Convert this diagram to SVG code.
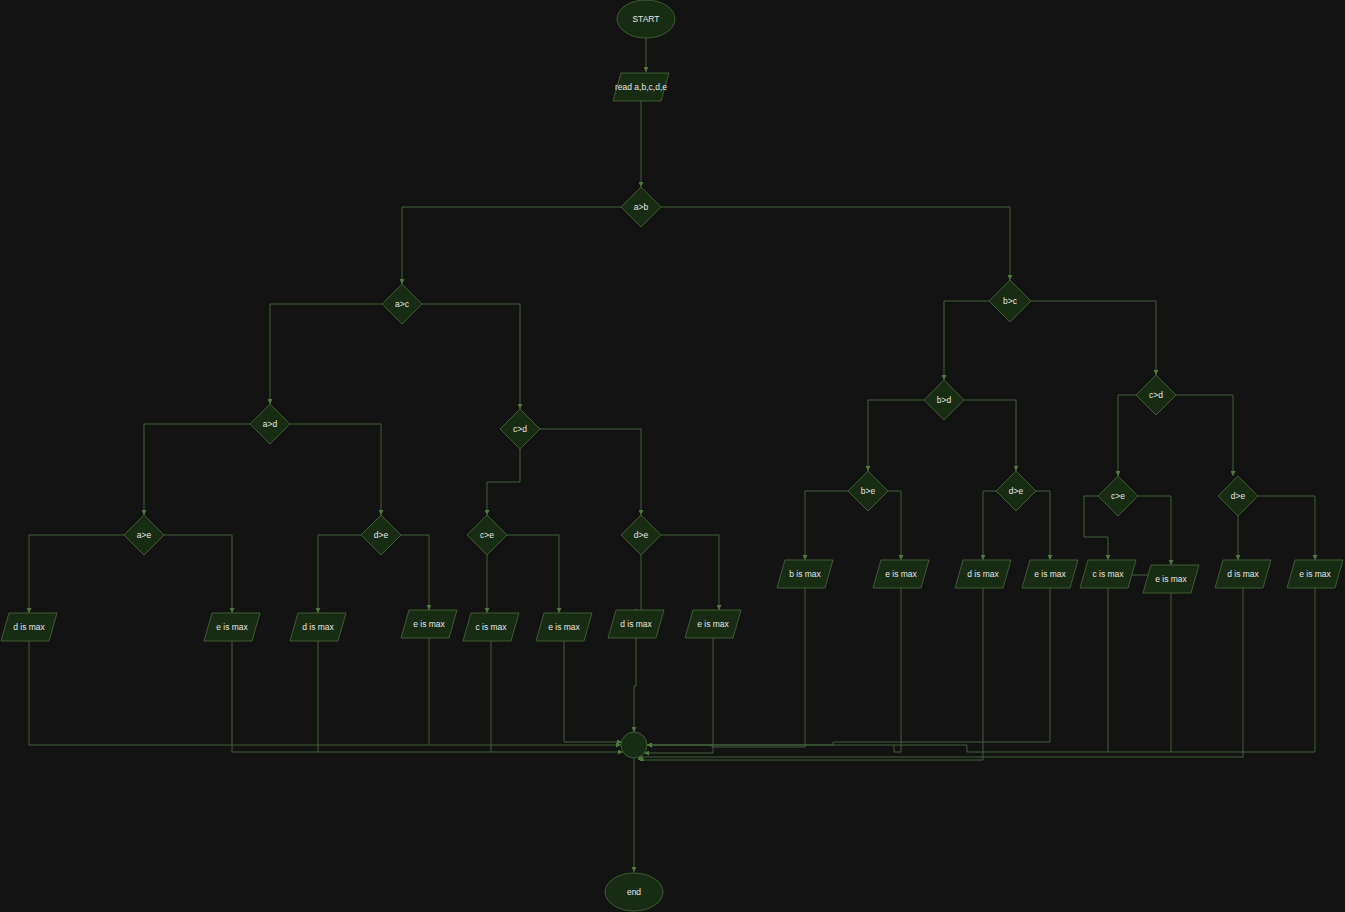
<svg xmlns="http://www.w3.org/2000/svg" xmlns:xlink="http://www.w3.org/1999/xlink" width="1345" height="912" viewBox="0 0 1345 912">
<style>
.n{fill:#182c13;stroke:#3d5c31;stroke-width:1}
.t{fill:#e6e6e6;font-family:"Liberation Sans",Arial,sans-serif;font-size:8.5px;text-anchor:middle;dominant-baseline:central}
.c{fill:none;stroke:#43603a;stroke-width:1}
</style>
<defs>
<marker id="a" viewBox="0 0 6 6" refX="6" refY="3" markerWidth="5" markerHeight="5" markerUnits="userSpaceOnUse" orient="auto">
<path d="M0,0 L6,3 L0,6 Z" fill="#4f7a3c"/>
</marker>
<path id="para" d="M-20,-14 H28 L20,14 H-28 Z"/>
<path id="dia" d="M0,-20 L20,0 L0,20 L-20,0 Z"/>
</defs>
<rect width="1345" height="912" fill="#131313"/>
<g id="connectors">
<path class="c" marker-end="url(#a)" d="M646,38 V72"/>
<path class="c" marker-end="url(#a)" d="M641,101 V187"/>
<path class="c" marker-end="url(#a)" d="M621,207 H402 V284"/>
<path class="c" marker-end="url(#a)" d="M661,207 H1010 V280"/>
<path class="c" marker-end="url(#a)" d="M382,304 H270 V404"/>
<path class="c" marker-end="url(#a)" d="M422,304 H520 V409"/>
<path class="c" marker-end="url(#a)" d="M250,424 H144 V515"/>
<path class="c" marker-end="url(#a)" d="M290,424 H381 V515"/>
<path class="c" marker-end="url(#a)" d="M520,449 V482 H487 V515"/>
<path class="c" marker-end="url(#a)" d="M540,429 H641 V515"/>
<path class="c" marker-end="url(#a)" d="M124,535 H29 V613"/>
<path class="c" marker-end="url(#a)" d="M164,535 H232 V613"/>
<path class="c" marker-end="url(#a)" d="M361,535 H318 V613"/>
<path class="c" marker-end="url(#a)" d="M401,535 H429 V610"/>
<path class="c" marker-end="url(#a)" d="M487,555 V613"/>
<path class="c" marker-end="url(#a)" d="M507,535 H559 V613"/>
<path class="c" marker-end="url(#a)" d="M641,555 V611 H632"/>
<path class="c" marker-end="url(#a)" d="M661,535 H719 V610"/>
<path class="c" marker-end="url(#a)" d="M989,301 H944 V380"/>
<path class="c" marker-end="url(#a)" d="M1031,301 H1156 V375"/>
<path class="c" marker-end="url(#a)" d="M924,400 H868 V471"/>
<path class="c" marker-end="url(#a)" d="M964,400 H1016 V471"/>
<path class="c" marker-end="url(#a)" d="M1136,395 H1118 V476"/>
<path class="c" marker-end="url(#a)" d="M1176,395 H1233 V476"/>
<path class="c" marker-end="url(#a)" d="M848,491 H805 V560"/>
<path class="c" marker-end="url(#a)" d="M888,491 H901 V560"/>
<path class="c" marker-end="url(#a)" d="M996,491 H983 V560"/>
<path class="c" marker-end="url(#a)" d="M1036,491 H1050 V560"/>
<path class="c" marker-end="url(#a)" d="M1098,496 H1084 V537 H1108 V560"/>
<path class="c" marker-end="url(#a)" d="M1138,496 H1171 V565"/>
<path class="c" marker-end="url(#a)" d="M1238,516 V560"/>
<path class="c" marker-end="url(#a)" d="M1258,496 H1315 V560"/>
<path class="c" d="M1126,575 H1150"/>
<path class="c" marker-end="url(#a)" d="M29,641 V745 H621"/>
<path class="c" marker-end="url(#a)" d="M232,641 V752 H623"/>
<path class="c" d="M318,641 V752"/>
<path class="c" d="M429,638 V745"/>
<path class="c" d="M491,641 V752"/>
<path class="c" marker-end="url(#a)" d="M564,641 V742 H622"/>
<path class="c" marker-end="url(#a)" d="M636,638 V686 H634 V732"/>
<path class="c" marker-end="url(#a)" d="M713,638 V753 H644"/>
<path class="c" marker-end="url(#a)" d="M805,588 V747 H712 V745 H647"/>
<path class="c" marker-end="url(#a)" d="M901,588 V752 H894 V745 H647"/>
<path class="c" d="M894,745 H967 V752"/>
<path class="c" marker-end="url(#a)" d="M983,588 V760 H642 V756"/>
<path class="c" marker-end="url(#a)" d="M1050,588 V742 H833 V745 H647"/>
<path class="c" d="M1108,588 V752"/>
<path class="c" d="M1171,593 V752"/>
<path class="c" marker-end="url(#a)" d="M1243,588 V757 H640 V755"/>
<path class="c" d="M1315,588 V752 H967"/>
<path class="c" marker-end="url(#a)" d="M634,758 V872"/>
</g>
<g id="start"><ellipse class="n" cx="646" cy="19" rx="29" ry="19"/><text class="t" x="646" y="19">START</text></g>
<g id="read"><use href="#para" class="n" x="641" y="87"/><text class="t" x="641" y="87">read a,b,c,d,e</text></g>
<g id="d_ab"><use href="#dia" class="n" x="641" y="207"/><text class="t" x="641" y="207">a&gt;b</text></g>
<g id="d_ac"><use href="#dia" class="n" x="402" y="304"/><text class="t" x="402" y="304">a&gt;c</text></g>
<g id="d_bc"><path class="n" d="M1010,280 L1031,301 L1010,322 L989,301 Z"/><text class="t" x="1010" y="301">b&gt;c</text></g>
<g id="d_ad"><use href="#dia" class="n" x="270" y="424"/><text class="t" x="270" y="424">a&gt;d</text></g>
<g id="d_cd1"><use href="#dia" class="n" x="520" y="429"/><text class="t" x="520" y="429">c&gt;d</text></g>
<g id="d_ae"><use href="#dia" class="n" x="144" y="535"/><text class="t" x="144" y="535">a&gt;e</text></g>
<g id="d_de1"><use href="#dia" class="n" x="381" y="535"/><text class="t" x="381" y="535">d&gt;e</text></g>
<g id="d_ce1"><use href="#dia" class="n" x="487" y="535"/><text class="t" x="487" y="535">c&gt;e</text></g>
<g id="d_de2"><use href="#dia" class="n" x="641" y="535"/><text class="t" x="641" y="535">d&gt;e</text></g>
<g id="d_bd"><use href="#dia" class="n" x="944" y="400"/><text class="t" x="944" y="400">b&gt;d</text></g>
<g id="d_cd2"><use href="#dia" class="n" x="1156" y="395"/><text class="t" x="1156" y="395">c&gt;d</text></g>
<g id="d_be"><use href="#dia" class="n" x="868" y="491"/><text class="t" x="868" y="491">b&gt;e</text></g>
<g id="d_de3"><use href="#dia" class="n" x="1016" y="491"/><text class="t" x="1016" y="491">d&gt;e</text></g>
<g id="d_ce2"><use href="#dia" class="n" x="1118" y="496"/><text class="t" x="1118" y="496">c&gt;e</text></g>
<g id="d_de4"><use href="#dia" class="n" x="1238" y="496"/><text class="t" x="1238" y="496">d&gt;e</text></g>
<g id="l1"><use href="#para" class="n" x="29" y="627"/><text class="t" x="29" y="627">d is max</text></g>
<g id="l2"><use href="#para" class="n" x="232" y="627"/><text class="t" x="232" y="627">e is max</text></g>
<g id="l3"><use href="#para" class="n" x="318" y="627"/><text class="t" x="318" y="627">d is max</text></g>
<g id="l4"><use href="#para" class="n" x="429" y="624"/><text class="t" x="429" y="624">e is max</text></g>
<g id="l5"><use href="#para" class="n" x="491" y="627"/><text class="t" x="491" y="627">c is max</text></g>
<g id="l6"><use href="#para" class="n" x="564" y="627"/><text class="t" x="564" y="627">e is max</text></g>
<g id="l7"><use href="#para" class="n" x="636" y="624"/><text class="t" x="636" y="624">d is max</text></g>
<g id="l8"><use href="#para" class="n" x="713" y="624"/><text class="t" x="713" y="624">e is max</text></g>
<g id="r1"><use href="#para" class="n" x="805" y="574"/><text class="t" x="805" y="574">b is max</text></g>
<g id="r2"><use href="#para" class="n" x="901" y="574"/><text class="t" x="901" y="574">e is max</text></g>
<g id="r3"><use href="#para" class="n" x="983" y="574"/><text class="t" x="983" y="574">d is max</text></g>
<g id="r4"><use href="#para" class="n" x="1050" y="574"/><text class="t" x="1050" y="574">e is max</text></g>
<g id="r5"><use href="#para" class="n" x="1108" y="574"/><text class="t" x="1108" y="574">c is max</text></g>
<g id="r6"><use href="#para" class="n" x="1171" y="579"/><text class="t" x="1171" y="579">e is max</text></g>
<g id="r7"><use href="#para" class="n" x="1243" y="574"/><text class="t" x="1243" y="574">d is max</text></g>
<g id="r8"><use href="#para" class="n" x="1315" y="574"/><text class="t" x="1315" y="574">e is max</text></g>
<g id="merge"><circle class="n" cx="634" cy="745" r="13"/></g>
<g id="end"><ellipse class="n" cx="634" cy="892" rx="29" ry="19"/><text class="t" x="634" y="892">end</text></g>
</svg>
